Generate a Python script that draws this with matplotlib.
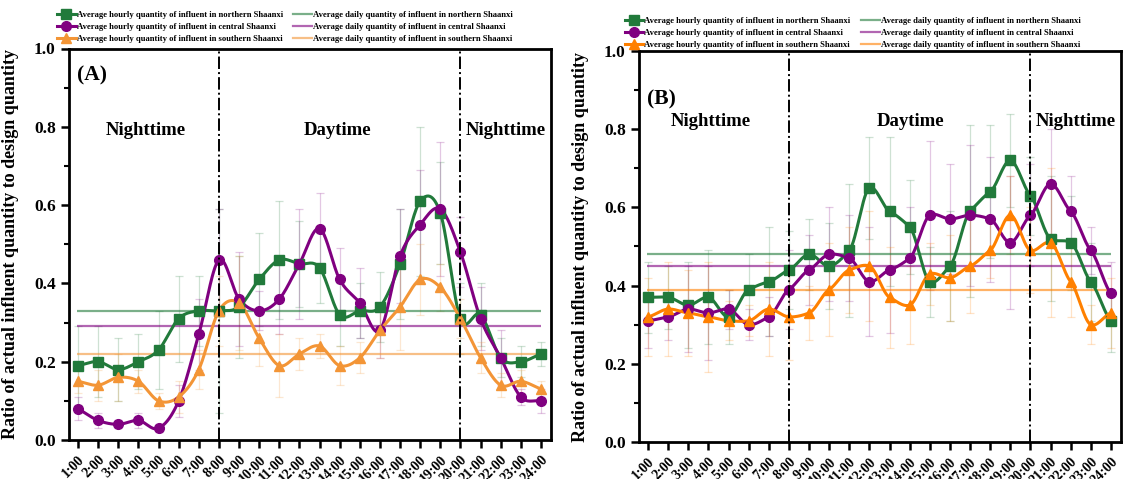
import numpy as np
import matplotlib
matplotlib.use("Agg")
import matplotlib.pyplot as plt
from matplotlib.lines import Line2D
from matplotlib.ticker import MultipleLocator

plt.rcParams["font.family"] = ["Liberation Serif", "DejaVu Serif"]
plt.rcParams["font.weight"] = "bold"

hours = list(range(1, 25))
hour_labels = [f"{h}:00" for h in hours]

# Panel A
a_north = [0.19, 0.20, 0.18, 0.20, 0.23, 0.31, 0.33, 0.33, 0.34, 0.41, 0.46, 0.45,
           0.44, 0.32, 0.33, 0.34, 0.45, 0.61, 0.58, 0.31, 0.32, 0.21, 0.20, 0.22]
a_central = [0.08, 0.05, 0.04, 0.05, 0.03, 0.10, 0.27, 0.46, 0.36, 0.33, 0.36, 0.45,
             0.54, 0.41, 0.35, 0.28, 0.47, 0.55, 0.59, 0.48, 0.31, 0.21, 0.11, 0.10]
a_south = [0.15, 0.14, 0.16, 0.15, 0.10, 0.11, 0.18, 0.33, 0.35, 0.26, 0.19, 0.22,
           0.24, 0.19, 0.21, 0.28, 0.34, 0.41, 0.39, 0.31, 0.21, 0.14, 0.15, 0.13]
a_north_err = [0.10, 0.09, 0.08, 0.07, 0.10, 0.11, 0.09, 0.26, 0.13, 0.12, 0.15, 0.11,
               0.09, 0.08, 0.07, 0.09, 0.14, 0.19, 0.13, 0.09, 0.08, 0.05, 0.04, 0.03]
a_central_err = [0.03, 0.02, 0.01, 0.02, 0.01, 0.04, 0.09, 0.13, 0.12, 0.05, 0.09, 0.14,
                 0.09, 0.08, 0.09, 0.07, 0.12, 0.14, 0.17, 0.09, 0.08, 0.07, 0.02, 0.03]
a_south_err = [0.03, 0.04, 0.06, 0.03, 0.02, 0.04, 0.05, 0.09, 0.12, 0.07, 0.08, 0.04,
               0.03, 0.05, 0.04, 0.07, 0.11, 0.09, 0.06, 0.05, 0.04, 0.03, 0.03, 0.02]
a_daily = [0.33, 0.29, 0.22]

# Panel B
b_north = [0.37, 0.37, 0.35, 0.37, 0.32, 0.39, 0.41, 0.44, 0.48, 0.45, 0.49, 0.65,
           0.59, 0.55, 0.41, 0.45, 0.59, 0.64, 0.72, 0.63, 0.52, 0.51, 0.41, 0.31]
b_central = [0.31, 0.32, 0.34, 0.33, 0.34, 0.30, 0.32, 0.39, 0.44, 0.48, 0.47, 0.41,
             0.44, 0.47, 0.58, 0.57, 0.58, 0.57, 0.51, 0.58, 0.66, 0.59, 0.49, 0.38]
b_south = [0.32, 0.34, 0.33, 0.32, 0.31, 0.31, 0.34, 0.32, 0.33, 0.39, 0.44, 0.45,
           0.37, 0.35, 0.43, 0.42, 0.45, 0.49, 0.58, 0.49, 0.51, 0.41, 0.30, 0.33]
b_north_err = [0.09, 0.08, 0.11, 0.12, 0.07, 0.09, 0.14, 0.10, 0.09, 0.11, 0.17, 0.13,
               0.19, 0.12, 0.09, 0.14, 0.22, 0.17, 0.12, 0.10, 0.16, 0.12, 0.10, 0.08]
b_central_err = [0.07, 0.06, 0.11, 0.12, 0.05, 0.04, 0.05, 0.10, 0.09, 0.12, 0.11, 0.14,
                 0.16, 0.13, 0.19, 0.14, 0.18, 0.16, 0.17, 0.13, 0.14, 0.09, 0.06, 0.08]
b_south_err = [0.10, 0.12, 0.11, 0.14, 0.05, 0.04, 0.12, 0.11, 0.07, 0.12, 0.11, 0.14,
               0.13, 0.10, 0.08, 0.11, 0.12, 0.07, 0.10, 0.11, 0.19, 0.09, 0.05, 0.09]
b_daily = [0.48, 0.45, 0.39]

hourly_names = ["Average hourly quantity of influent in northern Shaanxi",
                "Average hourly quantity of influent in central Shaanxi",
                "Average hourly quantity of influent in southern Shaanxi"]
daily_names = ["Average daily quantity of influent in northern Shaanxi",
               "Average daily quantity of influent in central Shaanxi",
               "Average daily quantity of influent in southern Shaanxi"]

GREEN = "#217a3b"
PURPLE = "#800080"
ORANGE_A = "#f39536"
ORANGE_B = "#ff8000"
MARKERS = ["s", "o", "^"]


def cardinal_spline(x, y, tension=0.0, n=30):
    """Piecewise cubic Hermite curve through every point (Catmull-Rom at tension 0)."""
    x = np.asarray(x, float)
    y = np.asarray(y, float)
    k = len(x)
    m = np.zeros(k)
    for i in range(k):
        lo, hi = max(i - 1, 0), min(i + 1, k - 1)
        m[i] = (1 - tension) * (y[hi] - y[lo]) / (x[hi] - x[lo])
    xs, ys = [], []
    for i in range(k - 1):
        t = np.linspace(0, 1, n, endpoint=(i == k - 2))
        dx = x[i + 1] - x[i]
        h00 = 2 * t ** 3 - 3 * t ** 2 + 1
        h10 = t ** 3 - 2 * t ** 2 + t
        h01 = -2 * t ** 3 + 3 * t ** 2
        h11 = t ** 3 - t ** 2
        xs.append(x[i] + t * dx)
        ys.append(h00 * y[i] + h10 * dx * m[i] + h01 * y[i + 1] + h11 * dx * m[i + 1])
    return np.concatenate(xs), np.concatenate(ys)


def draw_panel(ax, series, errors, daily, colors, tag, tension, legend_anchor):
    for vals, err, col in zip(series, errors, colors):
        ax.errorbar(hours, vals, yerr=err, fmt="none", ecolor=col, alpha=0.22,
                    elinewidth=0.9, capsize=3, capthick=0.9, zorder=1)
    for d, col in zip(daily, colors):
        ax.hlines(d, 0.95, 24, colors=col, lw=1.6, alpha=0.6, zorder=2)
    for vals, col, mk in zip(series, colors, MARKERS):
        sx, sy = cardinal_spline(hours, vals, tension=tension)
        ax.plot(sx, sy, color=col, lw=2.2, zorder=3)
        ax.plot(hours, vals, ls="none", marker=mk, color=col, ms=7, zorder=4)

    for xv in (8, 20):
        ax.axvline(xv, color="black", ls="-.", lw=1.4, zorder=5)

    ax.set_xlim(0.55, 24.5)
    ax.set_ylim(0, 1.0)
    ax.set_xticks(hours)
    ax.set_xticklabels(hour_labels, rotation=45, ha="right", rotation_mode="anchor",
                       fontsize=10, fontweight="bold")
    ax.yaxis.set_minor_locator(MultipleLocator(0.1))
    ax.set_yticks([0.0, 0.2, 0.4, 0.6, 0.8, 1.0])
    ax.set_yticklabels(["0.0", "0.2", "0.4", "0.6", "0.8", "1.0"], fontsize=12.5,
                       fontweight="bold")
    ax.tick_params(axis="both", which="major", direction="out", length=6, width=1.8)
    ax.tick_params(axis="y", which="minor", direction="out", length=3.5, width=1.5)
    for sp in ax.spines.values():
        sp.set_linewidth(2.0)
    ax.set_ylabel("Ratio of actual influent quantity to design quantity",
                  fontsize=13, fontweight="bold")
    ax.yaxis.set_label_coords(-0.104, 0.5)

    ax.text(0.93, tag[1], tag[0], fontsize=15.5, fontweight="bold", va="center", ha="left")
    for label, xv, yv in zip(["Nighttime", "Daytime", "Nighttime"], tag[2], tag[3]):
        ax.text(xv, yv, label, fontsize=13.5, fontweight="bold", ha="center", va="center")

    handles = []
    for col, mk, nm in zip(colors, MARKERS, hourly_names):
        handles.append(Line2D([], [], color=col, marker=mk, lw=2.2, ms=7, label=nm))
    for col, nm in zip(colors, daily_names):
        handles.append(Line2D([], [], color=col, lw=1.6, alpha=0.6, label=nm))
    ax.legend(handles=handles, ncol=2, frameon=False, loc="lower left",
              bbox_to_anchor=legend_anchor, handlelength=2.2,
              handletextpad=0.1, columnspacing=1.2, labelspacing=0.45,
              borderaxespad=0, borderpad=0, prop={"weight": "bold", "size": 6.2})


fig = plt.figure(figsize=(11.36, 4.79), dpi=100)
ax_a = fig.add_axes([69 / 1136, 39 / 479, 482 / 1136, 391.5 / 479])
ax_b = fig.add_axes([639 / 1136, 37 / 479, 482 / 1136, 391 / 479])

draw_panel(ax_a, [a_north, a_central, a_south],
           [a_north_err, a_central_err, a_south_err], a_daily,
           [GREEN, PURPLE, ORANGE_A],
           ("(A)", 0.93, [4.35, 13.9, 22.27], [0.79, 0.79, 0.79]),
           0.0, (-0.025, 1.015))

draw_panel(ax_b, [b_north, b_central, b_south],
           [b_north_err, b_central_err, b_south_err], b_daily,
           [GREEN, PURPLE, ORANGE_B],
           ("(B)", 0.875, [4.11, 14.04, 22.26], [0.82, 0.82, 0.82]),
           0.45, (-0.03, 1.005))

fig.savefig("out.png", dpi=100)
